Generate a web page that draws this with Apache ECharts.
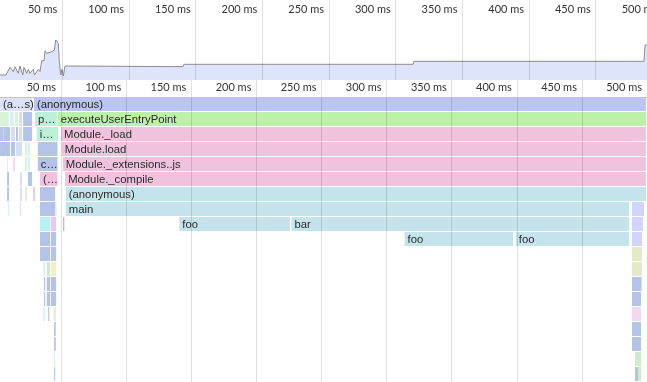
<!DOCTYPE html>
<html>
<head>
<meta charset="utf-8">
<script src="https://cdn.jsdelivr.net/npm/echarts@6/dist/echarts.min.js"></script>
<style>
html,body{margin:0;padding:0;background:#fff;}
#chart{width:647px;height:382px;}
</style>
</head>
<body>
<div id="chart"></div>
<script>
// ---- Overview (activity over the whole recording) ----
const overviewTimeMs = [3.2, 7.7, 10.7, 13.2, 14.5, 17.0, 18.2, 20.3, 21.2, 23.3, 24.5, 25.7, 28.2, 29.0, 32.0, 33.2, 34.5, 36.2, 37.0, 38.3, 39.5, 42.0, 43.2, 44.0, 45.0, 46.2, 47.0, 47.7, 48.8, 49.7, 50.7, 52.0, 53.3, 54.5, 140.5, 141.2, 313.0, 313.7, 486.2, 487.0, 488.5];
const overviewActivity = [5, 5, 12.7, 8.3, 13.3, 6.7, 14, 5, 12.7, 6.7, 10.7, 6.7, 10.7, 5, 10.7, 8.3, 19.3, 19.3, 29.3, 26.7, 28.3, 28.3, 26.7, 30, 40, 40.7, 36.7, 18.3, 5, 10.7, 4, 14, 12.7, 14, 13.3, 15.7, 15.7, 18.7, 18.7, 35, 35];

// ---- Timeline ticks ----
const tickStepMs = 50;
const timelineStartMs = 0;
const timelineEndMs = 500;
const tickUnit = 'ms';

// ---- Flame chart frames per stack depth: [startMs, endMs, label, kind] ----
const depth0 = [[3.1, 27.7, '(a…s)', 'anonPale'], [29.2, 499.2, '(anonymous)', 'anon']];
const depth1 = [[3.1, 9.9, '', 'paleGreen'], [10.8, 13.8, '', 'paleAqua'], [14.6, 16.9, '', 'paleGreen'], [17.7, 20.0, '', 'paleBlue'], [20.8, 27.7, '', 'blue'], [30.0, 46.7, 'p…', 'mint'], [47.5, 499.2, 'executeUserEntryPoint', 'green']];
const depth2 = [[3.1, 5.4, '', 'blue'], [5.6, 10.8, '', 'blue'], [11.5, 14.6, '', 'paleBlue'], [15.4, 16.9, '', 'blue'], [17.7, 20.0, '', 'paleBlue'], [20.8, 27.7, '', 'blue'], [31.3, 47.7, 'i…', 'mint'], [50.0, 499.2, 'Module._load', 'pink']];
const depth3 = [[3.1, 10.8, '', 'blue'], [11.5, 14.6, '', 'blue'], [15.4, 20.0, '', 'paleBlue'], [22.3, 23.8, '', 'paleGreen'], [24.6, 26.2, '', 'paleAqua'], [32.1, 47.2, '', 'blue'], [50.5, 499.2, 'Module.load', 'pink']];
const depth4 = [[8.5, 9.2, '', 'paleGreen'], [13.1, 14.6, '', 'paleOrchid'], [22.3, 23.8, '', 'paleGreen'], [24.6, 26.2, '', 'paleAqua'], [32.1, 47.2, 'c…', 'blue'], [51.3, 499.2, 'Module._extensions..js', 'pink']];
const depth5 = [[8.5, 10.0, '', 'blue'], [18.5, 20.0, '', 'paleLav'], [24.6, 27.7, '', 'blue'], [33.8, 47.2, '(…', 'pink'], [53.1, 499.2, 'Module._compile', 'pink']];
const depth6 = [[8.5, 10.0, '', 'blue'], [18.5, 20.0, '', 'paleBlue'], [22.3, 23.8, '', 'paleGreen'], [28.5, 30.0, '', 'orchid'], [33.8, 45.4, '', 'blue'], [53.6, 499.2, '(anonymous)', 'cyan']];
const depth7 = [[9.2, 10.0, '', 'paleAqua'], [18.5, 19.2, '', 'paleLav'], [33.8, 45.4, '', 'blue'], [45.4, 46.5, '', 'paleGreen'], [53.6, 486.2, 'main', 'cyan'], [488.5, 497.7, '', 'lav']];
const depth8 = [[33.8, 41.5, '', 'aqua'], [42.1, 46.2, '', 'orchid'], [51.5, 52.5, '', 'purple'], [140.8, 225.8, 'foo', 'cyan'], [226.9, 486.2, 'bar', 'cyan'], [488.5, 496.9, '', 'lav']];
const depth9 = [[33.8, 41.5, '', 'blue'], [42.1, 46.2, '', 'blue'], [313.8, 397.2, 'foo', 'cyan'], [399.2, 486.2, 'foo', 'cyan'], [488.5, 496.2, '', 'lav']];
const depth10 = [[33.8, 41.5, '', 'blue'], [42.1, 46.2, '', 'blue'], [488.5, 496.2, '', 'olive']];
const depth11 = [[36.4, 37.7, '', 'paleAqua'], [39.0, 41.5, '', 'lightGreen'], [42.1, 46.2, '', 'yellow'], [488.5, 496.2, '', 'olive']];
const depth12 = [[36.9, 37.7, '', 'blue'], [39.0, 41.5, '', 'blue'], [42.1, 46.2, '', 'blue'], [488.5, 495.4, '', 'blue'], [495.4, 496.2, '', 'paleBlue']];
const depth13 = [[36.9, 37.7, '', 'blue'], [39.0, 41.5, '', 'blue'], [42.1, 46.2, '', 'blue'], [488.5, 495.4, '', 'blue']];
const depth14 = [[36.4, 37.7, '', 'paleAqua'], [39.8, 41.0, '', 'gray'], [44.1, 46.2, '', 'paleOrange'], [488.5, 495.4, '', 'paleOrchid']];
const depth15 = [[44.6, 45.9, '', 'blue'], [488.5, 495.4, '', 'blue']];
const depth16 = [[44.6, 45.9, '', 'blue'], [488.5, 495.4, '', 'blue']];
const depth17 = [[44.6, 45.4, '', 'paleGreen'], [490.8, 495.4, '', 'lightGreen']];
const depth18 = [[44.6, 45.4, '', 'blue'], [490.8, 493.1, '', 'blue'], [493.1, 495.4, '', 'lightGreen']];

const depths = [depth0, depth1, depth2, depth3, depth4, depth5, depth6, depth7, depth8, depth9, depth10, depth11, depth12, depth13, depth14, depth15, depth16, depth17, depth18];

// ---- Styles ----
const kindColor = {
  anon: '#bcc3f5', anonPale: '#dde1f7', green: '#bdf0a9', pink: '#efc3de', cyan: '#c5e3eb',
  mint: '#baf1d8', blue: '#b4c3e8', lav: '#d0d3fa', olive: '#e2ebc6', paleGreen: '#d9f3d9',
  paleAqua: '#d6f1f4', paleBlue: '#d6def2', paleOrchid: '#f2d9ef', paleLav: '#dcdcf8',
  orchid: '#e8c8f0', aqua: '#b7f1f5', purple: '#bcb0ee', lightGreen: '#cdedc8',
  yellow: '#f1f1c6', gray: '#cccccc', paleOrange: '#f5e8da'
};
const AXIS_FONT = 'Lato, "Noto Sans", sans-serif';
const FRAME_FONT = '11.3px "Liberation Sans", Arial, sans-serif';

const frames = [];
depths.forEach((row, d) => row.forEach(f => frames.push([d, f[0], f[1], f[2], f[3]])));

function renderFrame(params, api) {
  const f = frames[params.dataIndex];
  const p0 = api.coord([f[1], f[0]]);
  const p1 = api.coord([f[2], f[0] + 1]);
  const x = p0[0], y = p0[1];
  const w = Math.max(p1[0] - p0[0], 0.8);
  const h = p1[1] - p0[1] - 1;
  const children = [{
    type: 'rect',
    shape: { x: x, y: y, width: w, height: h },
    style: { fill: kindColor[f[4]] }
  }];
  if (f[3] && w > 10) {
    children.push({
      type: 'text',
      style: {
        x: x + 3, y: y + h / 2 + 0.5, text: f[3],
        font: FRAME_FONT, fill: '#2b2b2b',
        verticalAlign: 'middle', align: 'left'
      }
    });
  }
  return { type: 'group', children: children };
}

const chart = echarts.init(document.getElementById('chart'), null, { renderer: 'canvas' });
const axisCommon = {
  type: 'value', min: timelineStartMs, max: timelineEndMs, interval: tickStepMs,
  position: 'top', z: 5,
  axisTick: { show: false },
  splitLine: { show: true, lineStyle: { color: 'rgba(0,0,0,0.12)', width: 1 } }
};
chart.setOption({
  animation: false,
  backgroundColor: '#ffffff',
  grid: [
    { left: -4.3, right: -15.4, top: 0, height: 80, containLabel: false, outerBoundsMode: 'none' },
    { left: -4, right: 0, top: 80, bottom: 0, containLabel: false, outerBoundsMode: 'none' }
  ],
  xAxis: [
    Object.assign({}, axisCommon, {
      gridIndex: 0,
      axisLine: { show: false },
      axisLabel: { inside: true, align: 'right', padding: [0, 5, 0, 0], margin: 4, color: '#333', fontSize: 11, fontFamily: AXIS_FONT, formatter: v => v + ' ' + tickUnit }
    }),
    Object.assign({}, axisCommon, {
      gridIndex: 1,
      axisLine: { show: true, lineStyle: { color: '#c4c4c4', width: 1 } },
      axisLabel: { inside: true, align: 'right', padding: [0, 5, 0, 0], margin: 2, color: '#333', fontSize: 11, fontFamily: AXIS_FONT, formatter: v => v + ' ' + tickUnit }
    })
  ],
  yAxis: [
    { gridIndex: 0, type: 'value', min: 0, max: 80, show: false },
    { gridIndex: 1, type: 'value', min: -17 / 15, max: 19, inverse: true, show: false }
  ],
  series: [
    {
      type: 'line', xAxisIndex: 0, yAxisIndex: 0,
      data: overviewTimeMs.map((t, i) => [t, overviewActivity[i]]),
      showSymbol: false, symbol: 'none',
      lineStyle: { color: '#8c8c8c', width: 1 },
      areaStyle: { color: '#dde4fb', opacity: 1 },
      z: 2
    },
    {
      type: 'custom', xAxisIndex: 1, yAxisIndex: 1,
      data: frames.map(f => [f[1], f[2], f[0]]),
      encode: { x: [0, 1], y: 2 },
      renderItem: renderFrame,
      clip: true,
      z: 2
    }
  ]
});
</script>
</body>
</html>
